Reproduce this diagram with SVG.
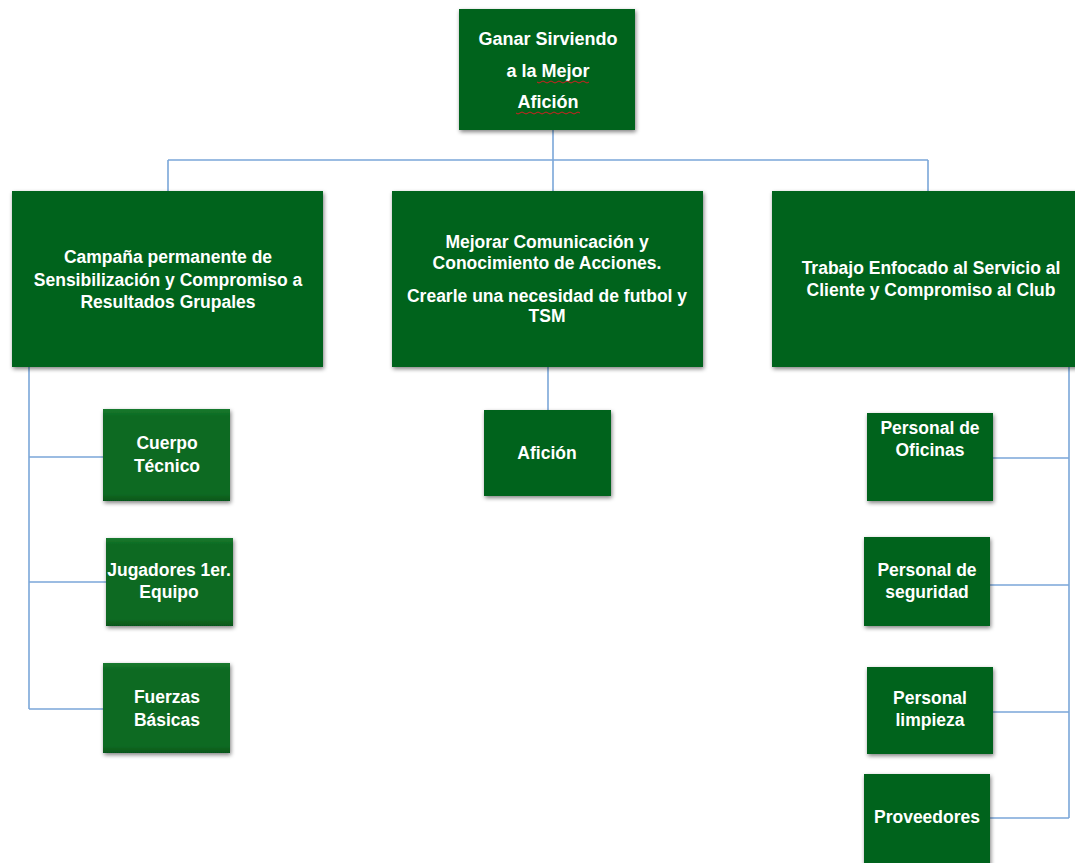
<svg xmlns="http://www.w3.org/2000/svg" width="1075" height="863" viewBox="0 0 1075 863">
<defs>
<filter id="sh" x="-10%" y="-10%" width="125%" height="125%">
<feGaussianBlur in="SourceAlpha" stdDeviation="2"/>
<feOffset dx="1" dy="2" result="b"/>
<feComponentTransfer><feFuncA type="linear" slope="0.5"/></feComponentTransfer>
<feMerge><feMergeNode/><feMergeNode in="SourceGraphic"/></feMerge>
</filter>
<linearGradient id="sg" x1="0" y1="0" x2="0" y2="1">
<stop offset="0" stop-color="#1a7a2e"/>
<stop offset="0.08" stop-color="#0b6a22"/>
<stop offset="0.92" stop-color="#0b6a22"/>
<stop offset="1" stop-color="#06561a"/>
</linearGradient>
</defs>
<style>
.box{fill:#05631f;filter:url(#sh);}
.sub{fill:url(#sg);filter:url(#sh);}
.t{font-family:"Liberation Sans",Arial,sans-serif;font-weight:bold;font-size:17.5px;fill:#ffffff;text-anchor:middle;}
.tt{font-size:18px;}
.c{stroke:#7ba7d9;stroke-width:1.6;fill:none;}
.wav{stroke:#d02020;stroke-width:1;fill:none;}
</style>
<rect width="1075" height="863" fill="#ffffff"/>
<g id="connectors">
<path class="c" d="M553 130V160M168 160H928M168 160V191M553 160V191M928 160V191"/>
<path class="c" d="M29 367V709M29 457H103M29 582H106M29 709H103"/>
<path class="c" d="M548 367V410"/>
<path class="c" d="M1069 367V818M993 458H1069M990 585H1069M993 712H1069M990 818H1069"/>
</g>
<g id="n-top">
<rect class="box" x="459" y="9" width="176" height="121"/>
<text class="t tt" x="548" y="45">Ganar Sirviendo</text>
<text class="t tt" x="548" y="77">a la Mejor</text>
<text class="t tt" x="548" y="108">Afición</text>
<path class="wav" d="M537 82q2 2 4 0t4 0t4 0t4 0t4 0t4 0t4 0t4 0t4 0t4 0t4 0t4 0t4 0"/>
<path class="wav" d="M516 113q2 2 4 0t4 0t4 0t4 0t4 0t4 0t4 0t4 0t4 0t4 0t4 0t4 0t4 0t4 0t4 0t4 0"/>
</g>
<g id="n-campana">
<rect class="box" x="12" y="191" width="311" height="176"/>
<text class="t" x="168" y="263">Campaña permanente de</text>
<text class="t" x="168" y="286">Sensibilización y Compromiso a</text>
<text class="t" x="168" y="308">Resultados Grupales</text>
</g>
<g id="n-mejorar">
<rect class="box" x="392" y="191" width="311" height="176"/>
<text class="t" x="547" y="248">Mejorar Comunicación y</text>
<text class="t" x="547" y="269">Conocimiento de Acciones.</text>
<text class="t" x="547" y="302">Crearle una necesidad de futbol y</text>
<text class="t" x="547" y="322">TSM</text>
</g>
<g id="n-trabajo">
<rect class="box" x="772" y="191" width="320" height="176"/>
<text class="t" x="931" y="274">Trabajo Enfocado al Servicio al</text>
<text class="t" x="931" y="296">Cliente y Compromiso al Club</text>
</g>
<g id="n-cuerpo">
<rect class="sub" x="103" y="409" width="127" height="92"/>
<text class="t" x="167" y="449">Cuerpo</text>
<text class="t" x="167" y="472">Técnico</text>
</g>
<g id="n-jugadores">
<rect class="sub" x="106" y="538" width="127" height="88"/>
<text class="t" x="169" y="576">Jugadores 1er.</text>
<text class="t" x="169" y="598">Equipo</text>
</g>
<g id="n-fuerzas">
<rect class="sub" x="103" y="663" width="127" height="90"/>
<text class="t" x="167" y="703">Fuerzas</text>
<text class="t" x="167" y="726">Básicas</text>
</g>
<g id="n-aficion">
<rect class="box" x="484" y="410" width="127" height="86"/>
<text class="t" x="547" y="459">Afición</text>
</g>
<g id="n-oficinas">
<rect class="box" x="867" y="413" width="126" height="88"/>
<text class="t" x="930" y="434">Personal de</text>
<text class="t" x="930" y="456">Oficinas</text>
</g>
<g id="n-seguridad">
<rect class="box" x="864" y="537" width="126" height="89"/>
<text class="t" x="927" y="576">Personal de</text>
<text class="t" x="927" y="598">seguridad</text>
</g>
<g id="n-limpieza">
<rect class="box" x="867" y="667" width="126" height="87"/>
<text class="t" x="930" y="704">Personal</text>
<text class="t" x="930" y="726">limpieza</text>
</g>
<g id="n-proveedores">
<rect class="box" x="864" y="774" width="126" height="92"/>
<text class="t" x="927" y="823">Proveedores</text>
</g>
</svg>
